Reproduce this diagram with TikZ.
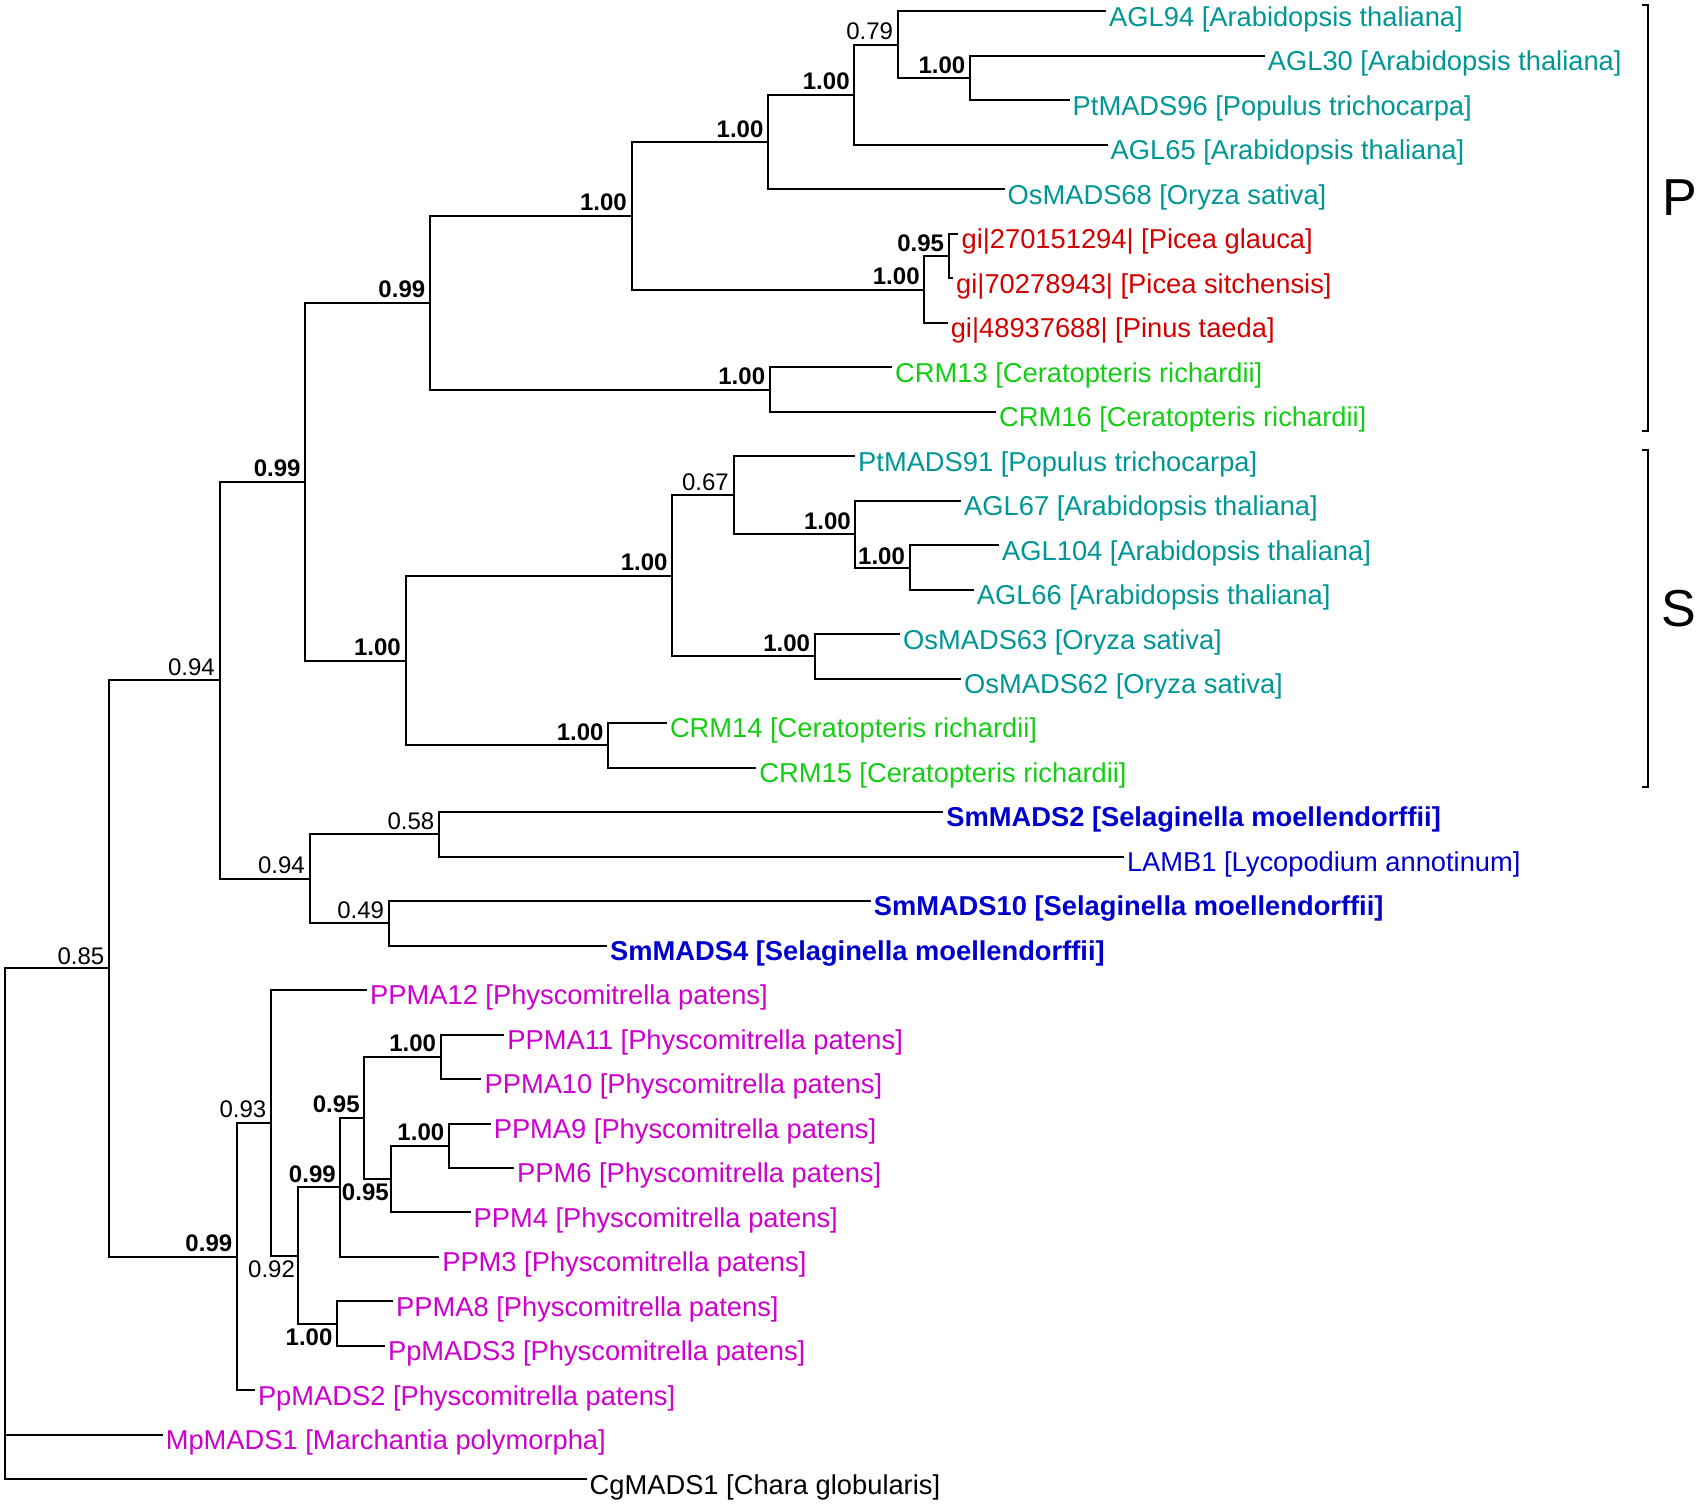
\documentclass[tikz,border=0pt]{standalone}
\usepackage{fontspec}
\setmainfont{Liberation Sans}
\usetikzlibrary{calc}
\definecolor{cteal}{RGB}{0,150,150}
\definecolor{cred}{RGB}{210,0,0}
\definecolor{cgreen}{RGB}{20,205,20}
\definecolor{cblue}{RGB}{0,0,205}
\definecolor{cmag}{RGB}{205,0,205}
\tikzset{
  branch/.style={line width=2pt, line join=miter},
  leaf/.style={anchor=base west, inner sep=0pt, font=\fontsize{27.3}{30}\selectfont},
  supp/.style={anchor=base east, inner sep=0pt, font=\fontsize{24}{26}\selectfont},
  bsupp/.style={supp, font=\fontsize{24}{26}\selectfont\bfseries},
  bracketline/.style={line width=2pt},
  cladename/.style={inner sep=0pt, font=\fontsize{52}{56}\selectfont}
}
\begin{document}
\begin{tikzpicture}[x=1pt,y=-1pt]
\useasboundingbox (0,0) rectangle (1699,1504);
% ---------- leaf tips ----------
\coordinate (l1) at (1106,11.5);
\coordinate (l2) at (1264.7,55.98);
\coordinate (l3) at (1069.5,100.46);
\coordinate (l4) at (1107.5,144.94);
\coordinate (l5) at (1004.5,189.42);
\coordinate (l6) at (958.4,233.9);
\coordinate (l7) at (953,278.38);
\coordinate (l8) at (947.6,322.86);
\coordinate (l9) at (892,367.34);
\coordinate (l10) at (996,411.82);
\coordinate (l11) at (855,456.3);
\coordinate (l12) at (961,500.78);
\coordinate (l13) at (999,545.26);
\coordinate (l14) at (973.6,589.74);
\coordinate (l15) at (900,634.22);
\coordinate (l16) at (961,678.7);
\coordinate (l17) at (666.8,723.18);
\coordinate (l18) at (756.2,767.66);
\coordinate (l19) at (943.2,812.14);
\coordinate (l20) at (1123.8,856.62);
\coordinate (l21) at (870.6,901.1);
\coordinate (l22) at (607,945.58);
\coordinate (l23) at (367,990.06);
\coordinate (l24) at (504.2,1034.54);
\coordinate (l25) at (481.4,1079.02);
\coordinate (l26) at (490.6,1123.5);
\coordinate (l27) at (513.9,1167.98);
\coordinate (l28) at (470.5,1212.46);
\coordinate (l29) at (439.1,1256.94);
\coordinate (l30) at (393,1301.42);
\coordinate (l31) at (384.9,1345.9);
\coordinate (l32) at (254.8,1390.38);
\coordinate (l33) at (162.6,1434.86);
\coordinate (l34) at (586.5,1479.34);
% ---------- internal nodes ----------
\coordinate (nA) at (970,78.22);
\coordinate (nB) at (897.7,44.86);
\coordinate (nC) at (854.3,94.9);
\coordinate (nD) at (768.1,142.16);
\coordinate (nE) at (948.7,256.14);
\coordinate (nF) at (924.3,289.5);
\coordinate (nG) at (631.5,215.83);
\coordinate (nH) at (769.8,389.58);
\coordinate (nI) at (429.9,302.7);
\coordinate (nJ) at (909.6,567.5);
\coordinate (nK) at (855.4,534.14);
\coordinate (nL) at (733.5,495.22);
\coordinate (nM) at (814.7,656.46);
\coordinate (nN) at (672.2,575.84);
\coordinate (nO) at (608.2,745.42);
\coordinate (nP) at (405.5,660.63);
\coordinate (nQ) at (305.2,481.67);
\coordinate (nR) at (439,834.38);
\coordinate (nS) at (388.7,923.34);
\coordinate (nT) at (309.5,878.86);
\coordinate (nU) at (219.5,680.27);
\coordinate (nV) at (440.7,1056.78);
\coordinate (nW) at (448.9,1145.74);
\coordinate (nX) at (391.4,1179.1);
\coordinate (nY) at (364.3,1117.94);
\coordinate (nZ) at (340.4,1187.44);
\coordinate (nAA) at (336.6,1323.66);
\coordinate (nAB) at (297.6,1255.55);
\coordinate (nAC) at (271,1122.8);
\coordinate (nAD) at (236.9,1256.59);
\coordinate (nAE) at (109,968.43);
\coordinate (root) at (5.4,1224);
% ---------- branches ----------
\draw[branch] (nA) |- (l2);  \draw[branch] (nA) |- (l3);
\draw[branch] (nB) |- (l1);  \draw[branch] (nB) |- (nA);
\draw[branch] (nC) |- (nB);  \draw[branch] (nC) |- (l4);
\draw[branch] (nD) |- (nC);  \draw[branch] (nD) |- (l5);
\draw[branch] (nE) |- (l6);  \draw[branch] (nE) |- (l7);
\draw[branch] (nF) |- (nE);  \draw[branch] (nF) |- (l8);
\draw[branch] (nG) |- (nD);  \draw[branch] (nG) |- (nF);
\draw[branch] (nH) |- (l9);  \draw[branch] (nH) |- (l10);
\draw[branch] (nI) |- (nG);  \draw[branch] (nI) |- (nH);
\draw[branch] (nJ) |- (l13); \draw[branch] (nJ) |- (l14);
\draw[branch] (nK) |- (l12); \draw[branch] (nK) |- (nJ);
\draw[branch] (nL) |- (l11); \draw[branch] (nL) |- (nK);
\draw[branch] (nM) |- (l15); \draw[branch] (nM) |- (l16);
\draw[branch] (nN) |- (nL);  \draw[branch] (nN) |- (nM);
\draw[branch] (nO) |- (l17); \draw[branch] (nO) |- (l18);
\draw[branch] (nP) |- (nN);  \draw[branch] (nP) |- (nO);
\draw[branch] (nQ) |- (nI);  \draw[branch] (nQ) |- (nP);
\draw[branch] (nR) |- (l19); \draw[branch] (nR) |- (l20);
\draw[branch] (nS) |- (l21); \draw[branch] (nS) |- (l22);
\draw[branch] (nT) |- (nR);  \draw[branch] (nT) |- (nS);
\draw[branch] (nU) |- (nQ);  \draw[branch] (nU) |- (nT);
\draw[branch] (nV) |- (l24); \draw[branch] (nV) |- (l25);
\draw[branch] (nW) |- (l26); \draw[branch] (nW) |- (l27);
\draw[branch] (nX) |- (nW);  \draw[branch] (nX) |- (l28);
\draw[branch] (nY) |- (nV);  \draw[branch] (nY) |- (nX);
\draw[branch] (nZ) |- (nY);  \draw[branch] (nZ) |- (l29);
\draw[branch] (nAA) |- (l30); \draw[branch] (nAA) |- (l31);
\draw[branch] (nAB) |- (nZ);  \draw[branch] (nAB) |- (nAA);
\draw[branch] (nAC) |- (l23); \draw[branch] (nAC) |- (nAB);
\draw[branch] (nAD) |- (nAC); \draw[branch] (nAD) |- (l32);
\draw[branch] (nAE) |- (nU);  \draw[branch] (nAE) |- (nAD);
\draw[branch] (root) |- (nAE); \draw[branch] (root) |- (l33); \draw[branch] (root) |- (l34);
% ---------- leaf labels ----------
\node[leaf, text=cteal] (t1) at ($(l1)+(3,14.8)$) {AGL94 [Arabidopsis thaliana]};
\node[leaf, text=cteal] (t2) at ($(l2)+(3,14.8)$) {AGL30 [Arabidopsis thaliana]};
\node[leaf, text=cteal] (t3) at ($(l3)+(3,14.8)$) {PtMADS96 [Populus trichocarpa]};
\node[leaf, text=cteal] (t4) at ($(l4)+(3,14.8)$) {AGL65 [Arabidopsis thaliana]};
\node[leaf, text=cteal] (t5) at ($(l5)+(3,14.8)$) {OsMADS68 [Oryza sativa]};
\node[leaf, text=cred] (t6) at ($(l6)+(3,14.8)$) {gi|270151294| [Picea glauca]};
\node[leaf, text=cred] (t7) at ($(l7)+(3,14.8)$) {gi|70278943| [Picea sitchensis]};
\node[leaf, text=cred] (t8) at ($(l8)+(3,14.8)$) {gi|48937688| [Pinus taeda]};
\node[leaf, text=cgreen] (t9) at ($(l9)+(3,14.8)$) {CRM13 [Ceratopteris richardii]};
\node[leaf, text=cgreen] (t10) at ($(l10)+(3,14.8)$) {CRM16 [Ceratopteris richardii]};
\node[leaf, text=cteal] (t11) at ($(l11)+(3,14.8)$) {PtMADS91 [Populus trichocarpa]};
\node[leaf, text=cteal] (t12) at ($(l12)+(3,14.8)$) {AGL67 [Arabidopsis thaliana]};
\node[leaf, text=cteal] (t13) at ($(l13)+(3,14.8)$) {AGL104 [Arabidopsis thaliana]};
\node[leaf, text=cteal] (t14) at ($(l14)+(3,14.8)$) {AGL66 [Arabidopsis thaliana]};
\node[leaf, text=cteal] (t15) at ($(l15)+(3,14.8)$) {OsMADS63 [Oryza sativa]};
\node[leaf, text=cteal] (t16) at ($(l16)+(3,14.8)$) {OsMADS62 [Oryza sativa]};
\node[leaf, text=cgreen] (t17) at ($(l17)+(3,14.8)$) {CRM14 [Ceratopteris richardii]};
\node[leaf, text=cgreen] (t18) at ($(l18)+(3,14.8)$) {CRM15 [Ceratopteris richardii]};
\node[leaf, text=cblue, font=\fontsize{27.3}{30}\selectfont\bfseries] (t19) at ($(l19)+(3,14.8)$) {SmMADS2 [Selaginella moellendorffii]};
\node[leaf, text=cblue] (t20) at ($(l20)+(3,14.8)$) {LAMB1 [Lycopodium annotinum]};
\node[leaf, text=cblue, font=\fontsize{27.3}{30}\selectfont\bfseries] (t21) at ($(l21)+(3,14.8)$) {SmMADS10 [Selaginella moellendorffii]};
\node[leaf, text=cblue, font=\fontsize{27.3}{30}\selectfont\bfseries] (t22) at ($(l22)+(3,14.8)$) {SmMADS4 [Selaginella moellendorffii]};
\node[leaf, text=cmag] (t23) at ($(l23)+(3,14.8)$) {PPMA12 [Physcomitrella patens]};
\node[leaf, text=cmag] (t24) at ($(l24)+(3,14.8)$) {PPMA11 [Physcomitrella patens]};
\node[leaf, text=cmag] (t25) at ($(l25)+(3,14.8)$) {PPMA10 [Physcomitrella patens]};
\node[leaf, text=cmag] (t26) at ($(l26)+(3,14.8)$) {PPMA9 [Physcomitrella patens]};
\node[leaf, text=cmag] (t27) at ($(l27)+(3,14.8)$) {PPM6 [Physcomitrella patens]};
\node[leaf, text=cmag] (t28) at ($(l28)+(3,14.8)$) {PPM4 [Physcomitrella patens]};
\node[leaf, text=cmag] (t29) at ($(l29)+(3,14.8)$) {PPM3 [Physcomitrella patens]};
\node[leaf, text=cmag] (t30) at ($(l30)+(3,14.8)$) {PPMA8 [Physcomitrella patens]};
\node[leaf, text=cmag] (t31) at ($(l31)+(3,14.8)$) {PpMADS3 [Physcomitrella patens]};
\node[leaf, text=cmag] (t32) at ($(l32)+(3,14.8)$) {PpMADS2 [Physcomitrella patens]};
\node[leaf, text=cmag] (t33) at ($(l33)+(3,14.8)$) {MpMADS1 [Marchantia polymorpha]};
\node[leaf, text=black] (t34) at ($(l34)+(3,14.8)$) {CgMADS1 [Chara globularis]};
% ---------- support values ----------
\node[bsupp] (sA) at ($(nA)+(-4.5,-5)$) {1.00};
\node[supp]  (sB) at ($(nB)+(-4.5,-5)$) {0.79};
\node[bsupp] (sC) at ($(nC)+(-4.5,-5)$) {1.00};
\node[bsupp] (sD) at ($(nD)+(-4.5,-5)$) {1.00};
\node[bsupp] (sE) at ($(nE)+(-4.5,-5)$) {0.95};
\node[bsupp] (sF) at ($(nF)+(-4.5,-5)$) {1.00};
\node[bsupp] (sG) at ($(nG)+(-4.5,-5)$) {1.00};
\node[bsupp] (sH) at ($(nH)+(-4.5,-5)$) {1.00};
\node[bsupp] (sI) at ($(nI)+(-4.5,-5)$) {0.99};
\node[bsupp] (sJ) at ($(nJ)+(-4.5,-3)$) {1.00};
\node[bsupp] (sK) at ($(nK)+(-4.5,-5)$) {1.00};
\node[supp]  (sL) at ($(nL)+(-4.5,-5)$) {0.67};
\node[bsupp] (sM) at ($(nM)+(-4.5,-5)$) {1.00};
\node[bsupp] (sN) at ($(nN)+(-4.5,-5)$) {1.00};
\node[bsupp] (sO) at ($(nO)+(-4.5,-5)$) {1.00};
\node[bsupp] (sP) at ($(nP)+(-4.5,-5)$) {1.00};
\node[bsupp] (sQ) at ($(nQ)+(-4.5,-5)$) {0.99};
\node[supp]  (sR) at ($(nR)+(-4.5,-5)$) {0.58};
\node[supp]  (sS) at ($(nS)+(-4.5,-5)$) {0.49};
\node[supp]  (sT) at ($(nT)+(-4.5,-5)$) {0.94};
\node[supp]  (sU) at ($(nU)+(-4.5,-5)$) {0.94};
\node[bsupp] (sV) at ($(nV)+(-4.5,-5)$) {1.00};
\node[bsupp] (sW) at ($(nW)+(-4.5,-5)$) {1.00};
\node[bsupp] (sX) at ($(nX)+(-2.5,21.5)$) {0.95};
\node[bsupp] (sY) at ($(nY)+(-4.5,-5)$) {0.95};
\node[bsupp] (sZ) at ($(nZ)+(-4.5,-5)$) {0.99};
\node[bsupp] (sAA) at ($(nAA)+(-4,21.5)$) {1.00};
\node[supp]  (sAB) at ($(nAB)+(-2.5,21.5)$) {0.92};
\node[supp]  (sAC) at ($(nAC)+(-4.5,-5)$) {0.93};
\node[bsupp] (sAD) at ($(nAD)+(-4.5,-5)$) {0.99};
\node[supp]  (sAE) at ($(nAE)+(-4.5,-4)$) {0.85};
% ---------- clade brackets ----------
\coordinate (pTop) at (1648,5);
\coordinate (pBot) at (1648,431);
\coordinate (sTop) at (1648,450);
\coordinate (sBot) at (1648,786.7);
\draw[bracketline] ($(pTop)+(-6,0)$) -- (pTop) -- (pBot) -- ($(pBot)+(-6,0)$);
\draw[bracketline] ($(sTop)+(-6,0)$) -- (sTop) -- (sBot) -- ($(sBot)+(-6,0)$);
\node[cladename] (cP) at (1680,198) {P};
\node[cladename] (cS) at (1679,609) {S};
\end{tikzpicture}
\end{document}
